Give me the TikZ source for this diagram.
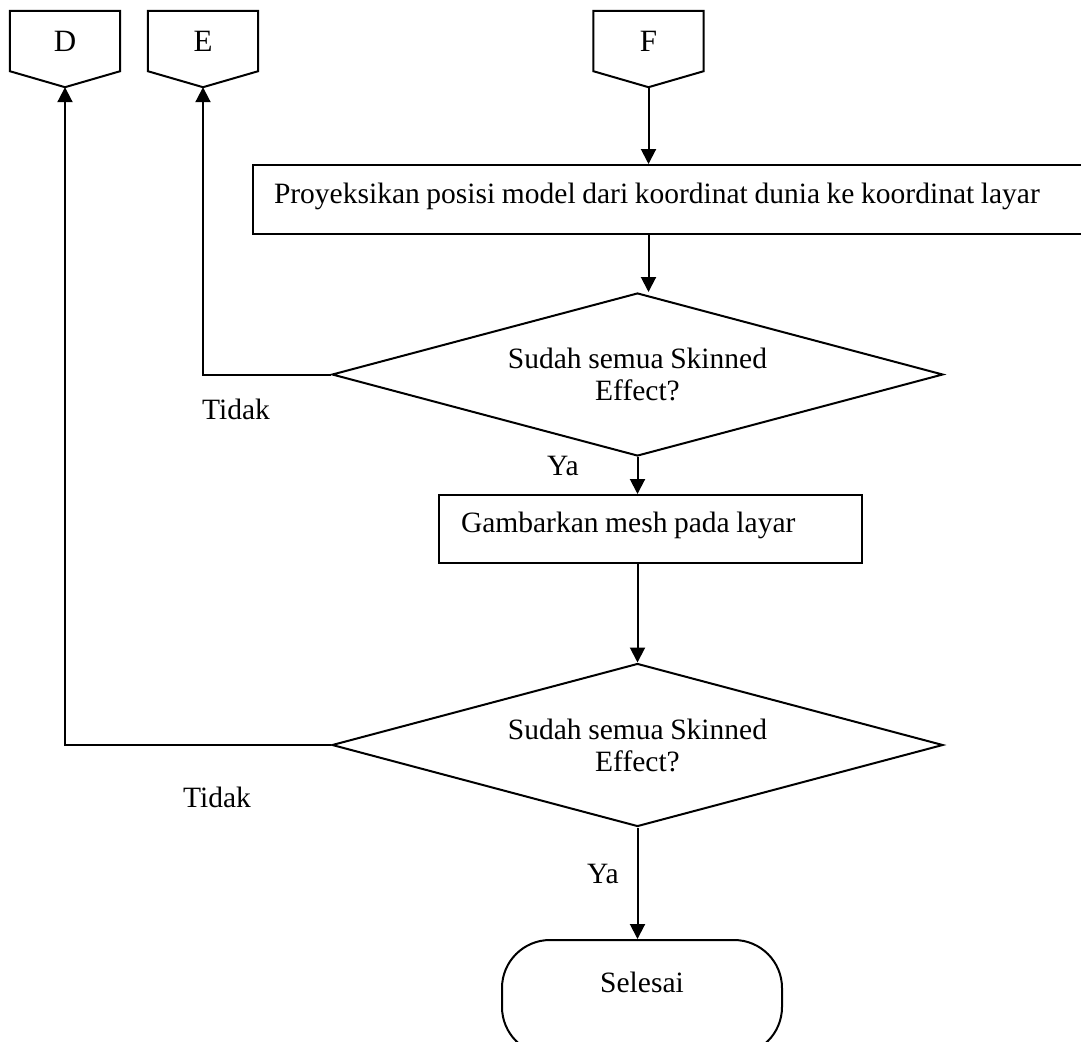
\documentclass[tikz,border=0pt]{standalone}
\usepackage{fontspec}
\setmainfont[WordSpace=0.9]{Liberation Serif}
\usetikzlibrary{shapes.geometric,arrows.meta,calc}
\begin{document}
\begin{tikzpicture}[x=1pt,y=-1pt,
  every node/.style={font=\fontsize{29.5}{32}\selectfont},
  line/.style={line width=2pt},
  arr/.style={line,-{Triangle[length=15pt,width=15pt]}},
  offpage/.style={minimum width=110pt,minimum height=60pt,inner sep=0pt,
    font=\fontsize{31}{32}\selectfont},
  procbox/.style={draw,line width=2pt,align=flush left,inner ysep=0pt,
    text height=20pt,text depth=12.5pt},
  decision/.style={draw,line width=2pt,diamond,aspect=3.75,inner sep=0pt,
    minimum width=611pt,minimum height=163pt,align=center},
  terminal/.style={draw,line width=2pt,rounded corners=48pt,
    minimum width=280pt,minimum height=115pt,inner sep=0pt},
  lbl/.style={inner sep=0pt,anchor=base west}
]
\useasboundingbox (0,0) rectangle (1081,1041);

% off-page connectors
\node[offpage] (D) at (65,41) {D};
\node[offpage] (E) at (203,41) {E};
\node[offpage] (F) at (648.5,41) {F};
\foreach \c in {D,E,F}{
  \coordinate (\c t) at ($(\c.south)+(0,16)$);
  \draw[line] (\c.north west) -- (\c.north east) -- (\c.south east)
    -- (\c t) -- (\c.south west) -- cycle;
}

% process steps and decisions
\node[procbox,text width=810pt,inner xsep=21pt,minimum height=69pt] (r1) at (679,199.5)
  {Proyeksikan posisi model dari koordinat dunia ke koordinat layar};
\node[decision] (d1) at (637.5,374.5) {Sudah semua Skinned\\Effect?};
\node[procbox,text width=379pt,inner xsep=22pt,minimum height=68pt] (r2) at (650.5,529)
  {Gambarkan mesh pada layar};
\node[decision] (d2) at (637.5,745) {Sudah semua Skinned\\Effect?};
\node[terminal] (stop) at (642,997.5) {};
\node (stoptext) at (642,982) {Selesai};

% branch labels
\node[lbl] (t1) at (202,419) {Tidak};
\node[lbl] (y1) at (547,475) {Ya};
\node[lbl] (t2) at (183,807) {Tidak};
\node[lbl] (y2) at (587,883) {Ya};

% connectors
\draw[arr] (Ft) -- (r1.north -| Ft);
\draw[arr] (r1.south -| Ft) -- (d1.north -| Ft);
\draw[arr] (d1.west) -| (Et);
\draw[arr] (d1.south) -- (d1.south |- r2.north);
\draw[arr] (r2.south -| d2.north) -- (d2.north);
\draw[arr] (d2.west) -| (Dt);
\draw[arr] (d2.south) -- (d2.south |- stop.north);
\end{tikzpicture}
\end{document}
